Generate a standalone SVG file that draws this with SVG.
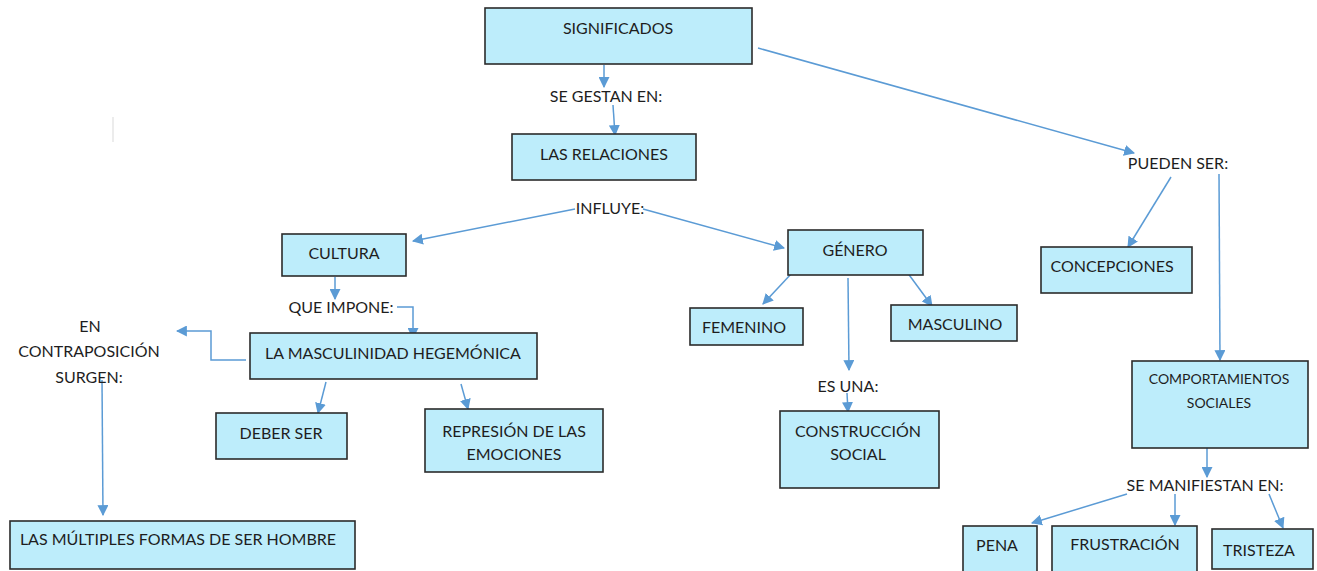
<svg xmlns="http://www.w3.org/2000/svg" width="1317" height="571" viewBox="0 0 1317 571">
<defs>
<style>
.box{fill:#bdedfb;stroke:#2b2b2b;stroke-width:1.6}
.t{font-family:Lato,"Liberation Sans",sans-serif;font-size:16px;fill:#1e1e1e;text-anchor:middle;dominant-baseline:central}
.s{font-size:14px}
.c{fill:none;stroke:#5b9bd5;stroke-width:1.5;marker-end:url(#ah)}
.n{fill:none;stroke:#5b9bd5;stroke-width:1.5}
</style>
<marker id="ah" viewBox="0 0 10 10" refX="9" refY="5" markerWidth="11" markerHeight="11" markerUnits="userSpaceOnUse" orient="auto">
<path d="M0,0 L10,5 L0,10 Z" fill="#5b9bd5"/>
</marker>
</defs>
<rect width="1317" height="571" fill="#ffffff"/>
<line x1="113" y1="117" x2="113" y2="142" stroke="#e6e6e6" stroke-width="1.5"/>

<g id="connectors">
<line class="c" x1="604" y1="65" x2="604" y2="87"/>
<line class="c" x1="613" y1="105" x2="615" y2="135"/>
<line class="c" x1="575" y1="209" x2="413" y2="241"/>
<line class="c" x1="643" y1="209" x2="784" y2="248"/>
<line class="c" x1="758" y1="48" x2="1134" y2="153"/>
<line class="c" x1="335" y1="277" x2="335" y2="299"/>
<polyline class="c" points="397,307 413,307 413,338"/>
<polyline class="c" points="246,360 211,360 211,331 177,331"/>
<line class="c" x1="102" y1="380" x2="103" y2="515"/>
<line class="c" x1="326" y1="382" x2="318" y2="413"/>
<line class="c" x1="461" y1="384" x2="468" y2="409"/>
<line class="c" x1="792" y1="273" x2="763" y2="304"/>
<line class="c" x1="907" y1="272" x2="932" y2="306"/>
<line class="c" x1="848" y1="278" x2="849" y2="370"/>
<line class="c" x1="847" y1="393" x2="848" y2="412"/>
<line class="c" x1="1171" y1="177" x2="1128" y2="247"/>
<line class="c" x1="1219" y1="174" x2="1220" y2="360"/>
<line class="c" x1="1207" y1="448" x2="1207" y2="477"/>
<line class="c" x1="1127" y1="494" x2="1032" y2="523"/>
<line class="c" x1="1175" y1="494" x2="1175" y2="525"/>
<line class="c" x1="1269" y1="494" x2="1283" y2="528"/>
</g>

<g id="significados"><rect class="box" x="485" y="8" width="267" height="56"/><text class="t" x="618" y="27">SIGNIFICADOS</text></g>
<g id="lbl-se-gestan"><text class="t" x="606" y="95">SE GESTAN EN:</text></g>
<g id="relaciones"><rect class="box" x="512" y="134" width="184" height="46"/><text class="t" x="604" y="153">LAS RELACIONES</text></g>
<g id="lbl-influye"><text class="t" x="610" y="207">INFLUYE:</text></g>
<g id="cultura"><rect class="box" x="282" y="234" width="124" height="42"/><text class="t" x="344" y="252">CULTURA</text></g>
<g id="lbl-que-impone"><text class="t" x="341" y="306">QUE IMPONE:</text></g>
<g id="masculinidad"><rect class="box" x="250" y="333" width="287" height="46"/><text class="t" x="393" y="352">LA MASCULINIDAD HEGEMÓNICA</text></g>
<g id="lbl-contraposicion"><text class="t" x="90" y="325">EN</text><text class="t" x="89" y="350">CONTRAPOSICIÓN</text><text class="t" x="89" y="376">SURGEN:</text></g>
<g id="deber-ser"><rect class="box" x="216" y="413" width="131" height="46"/><text class="t" x="281" y="432">DEBER SER</text></g>
<g id="represion"><rect class="box" x="425" y="409" width="178" height="63"/><text class="t" x="514" y="430">REPRESIÓN DE LAS</text><text class="t" x="514" y="453">EMOCIONES</text></g>
<g id="multiples"><rect class="box" x="10" y="521" width="345" height="48"/><text class="t" x="178" y="538">LAS MÚLTIPLES FORMAS DE SER HOMBRE</text></g>
<g id="genero"><rect class="box" x="788" y="230" width="135" height="45"/><text class="t" x="855" y="249">GÉNERO</text></g>
<g id="femenino"><rect class="box" x="690" y="308" width="113" height="37"/><text class="t" x="744" y="326">FEMENINO</text></g>
<g id="masculino"><rect class="box" x="891" y="305" width="126" height="36"/><text class="t" x="955" y="323">MASCULINO</text></g>
<g id="lbl-es-una"><text class="t" x="848" y="385">ES UNA:</text></g>
<g id="construccion"><rect class="box" x="780" y="411" width="159" height="77"/><text class="t" x="858" y="430">CONSTRUCCIÓN</text><text class="t" x="858" y="453">SOCIAL</text></g>
<g id="lbl-pueden-ser"><text class="t" x="1178" y="162">PUEDEN SER:</text></g>
<g id="concepciones"><rect class="box" x="1041" y="247" width="151" height="46"/><text class="t" x="1112" y="265">CONCEPCIONES</text></g>
<g id="comportamientos"><rect class="box" x="1132" y="361" width="176" height="87"/><text class="t s" x="1219" y="378">COMPORTAMIENTOS</text><text class="t s" x="1219" y="402">SOCIALES</text></g>
<g id="lbl-se-manifiestan"><text class="t" x="1205" y="484">SE MANIFIESTAN EN:</text></g>
<g id="pena"><rect class="box" x="963" y="526" width="74" height="50"/><text class="t" x="997" y="544">PENA</text></g>
<g id="frustracion"><rect class="box" x="1052" y="526" width="145" height="50"/><text class="t" x="1125" y="543">FRUSTRACIÓN</text></g>
<g id="tristeza"><rect class="box" x="1212" y="529" width="101" height="40"/><text class="t" x="1259" y="549">TRISTEZA</text></g>
</svg>
